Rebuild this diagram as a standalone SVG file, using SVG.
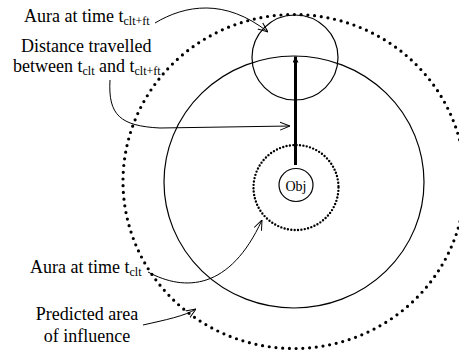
<svg xmlns="http://www.w3.org/2000/svg" width="459" height="354" viewBox="0 0 459 354">
<defs>
<style>
.t{font-family:'Liberation Serif',Tinos,'Times New Roman',Times,'DejaVu Serif',serif;font-size:18px;fill:#000}
.s{font-size:12px}
.ln{fill:none;stroke:#000;stroke-width:1.2}
.conn{fill:none;stroke:#000;stroke-width:1}
.bigdot{fill:none;stroke:#000;stroke-width:3.2;stroke-linecap:round;stroke-dasharray:0 6.75}
.smdot{fill:none;stroke:#000;stroke-width:2.4;stroke-linecap:round;stroke-dasharray:0 3.4}
</style>
<marker id="open" viewBox="0 0 10 10" refX="10" refY="5" markerWidth="10" markerHeight="10" markerUnits="userSpaceOnUse" orient="auto">
<path d="M0,1 L10,5 L0,9" fill="none" stroke="#000" stroke-width="1"/>
</marker>
<marker id="solid" viewBox="0 0 10 10" refX="10" refY="5" markerWidth="6" markerHeight="6" markerUnits="userSpaceOnUse" orient="auto">
<path d="M0,0 L10,5 L0,10 Z" fill="#000"/>
</marker>
</defs>
<rect width="459" height="354" fill="#fff"/>
<g id="predicted-area">
<ellipse class="bigdot" cx="294" cy="181.5" rx="171" ry="167"/>
</g>
<g id="aura-clt-ft">
<ellipse class="ln" cx="295" cy="57.5" rx="43" ry="42.5"/>
</g>
<g id="aura-large">
<ellipse class="ln" cx="294" cy="182" rx="130" ry="126"/>
</g>
<g id="aura-clt">
<circle class="smdot" cx="296" cy="187.5" r="42.5"/>
</g>
<g id="obj">
<ellipse class="ln" cx="296" cy="185" rx="17" ry="16.5"/>
<text class="t" x="296" y="190.5" text-anchor="middle" font-family="Liberation Serif, serif" style="font-size:14px">Obj</text>
</g>
<g id="labels" font-family="Liberation Serif, serif">
<text class="t" x="24" y="22">Aura at time t<tspan class="s" dy="3">clt+ft</tspan></text>
<text class="t" x="21" y="52">Distance travelled</text>
<text class="t" x="13" y="72">between t<tspan class="s" dy="3">clt</tspan><tspan dy="-3"> and t</tspan><tspan class="s" dy="3">clt+ft</tspan></text>
<text class="t" x="30" y="273">Aura at time t<tspan class="s" dy="3">clt</tspan></text>
<text class="t" x="87" y="320" text-anchor="middle">Predicted area</text>
<text class="t" x="87" y="342" text-anchor="middle">of influence</text>
</g>
<g id="connectors">
<line x1="295.5" y1="165" x2="295.5" y2="56.5" stroke="#000" stroke-width="3" marker-end="url(#solid)"/>
<path class="conn" d="M155,23 C185,5 225,-2 268,32" marker-end="url(#open)"/>
<path class="conn" d="M110,80 C108,115 120,126 160,128 L290,126" marker-end="url(#open)"/>
<path class="conn" d="M148,272 C185,292 230,290 262,220" marker-end="url(#open)"/>
<path class="conn" d="M143,325 C165,320 185,316 196,309" marker-end="url(#open)"/>
</g>
</svg>
